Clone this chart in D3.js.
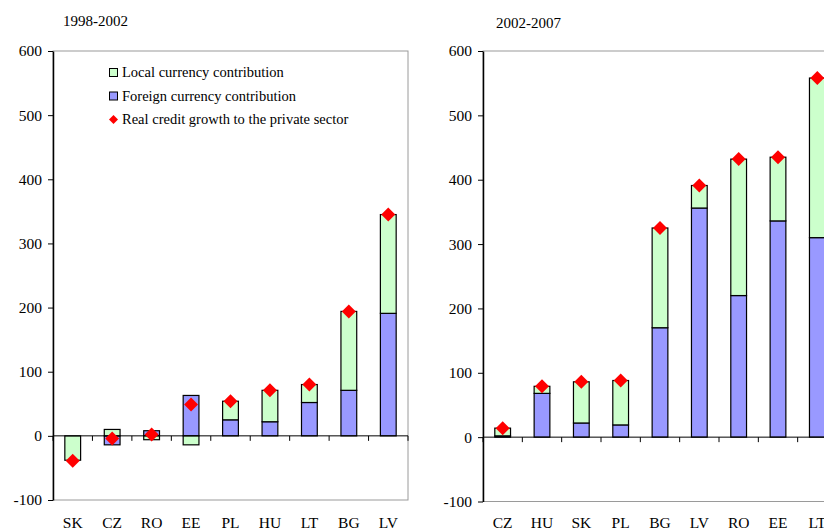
<!DOCTYPE html>
<html>
<head>
<meta charset="utf-8">
<script src="https://cdn.jsdelivr.net/npm/d3@7"></script>
<style>
  html, body { margin: 0; padding: 0; background: #fff; }
  svg, svg text { font-family: "Liberation Serif", "Times New Roman", serif; }
  svg { display: block; }
</style>
</head>
<body>
<svg id="chart" width="824" height="532"></svg>
<script>
// ---- data ----
const leftTitle = "1998-2002";
const leftCategories = ["SK", "CZ", "RO", "EE", "PL", "HU", "LT", "BG", "LV"];
const leftForeign = [0, -14, 8, 63, 25, 22, 52, 71, 191];
const leftLocal = [-38, 10, -6, -14, 29, 49, 28, 123, 154];
const leftReal = [-39, -4, 2, 49, 54, 71, 80, 194, 345];

const rightTitle = "2002-2007";
const rightCategories = ["CZ", "HU", "SK", "PL", "BG", "LV", "RO", "EE", "LT"];
const rightForeign = [2, 68, 22, 19, 170, 356, 220, 336, 310];
const rightLocal = [12, 11, 64, 69, 155, 35, 212, 99, 248];
const rightReal = [14, 79, 86, 88, 325, 391, 432, 435, 558];

const yTicks = [-100, 0, 100, 200, 300, 400, 500, 600];
const legendLabels = ["Local currency contribution", "Foreign currency contribution", "Real credit growth to the private sector"];

const COLORS = { local: "#CCFFCC", foreign: "#9999FF", real: "#FF0000" };

const svg = d3.select("#chart");
svg.append("rect").attr("width", 824).attr("height", 532).attr("fill", "#fff");

function drawPanel(p) {
  const g = svg.append("g");
  const x = d3.scaleBand().domain(p.categories).range([p.x0, p.x1]).paddingInner(0.6).paddingOuter(0.3);
  const y = d3.scaleLinear().domain([-100, 600]).range([p.yBottom, p.yTop]);

  // plot area border
  g.append("rect")
    .attr("x", p.x0).attr("y", p.yTop)
    .attr("width", p.x1 - p.x0).attr("height", p.yBottom - p.yTop)
    .attr("fill", "none").attr("stroke", "#9a9a9a").attr("stroke-width", 1);

  // stacked data
  const rows = p.categories.map((c, i) => ({ cat: c, foreign: p.foreign[i], local: p.local[i], real: p.real[i] }));
  const stack = d3.stack().keys(["foreign", "local"]).offset(d3.stackOffsetDiverging);
  const series = stack(rows);

  g.selectAll("g.series").data(series).enter().append("g")
    .attr("fill", d => COLORS[d.key])
    .selectAll("rect").data(d => d).enter().append("rect")
    .attr("x", d => x(d.data.cat))
    .attr("width", x.bandwidth())
    .attr("y", d => y(Math.max(d[0], d[1])))
    .attr("height", d => Math.abs(y(d[0]) - y(d[1])))
    .attr("stroke", "#000").attr("stroke-width", 1.2);

  // x axis at zero
  const step = x.step();
  const zeroY = y(0);
  g.append("line").attr("x1", p.x0).attr("x2", p.x1).attr("y1", zeroY).attr("y2", zeroY)
    .attr("stroke", "#000").attr("stroke-width", 1);
  d3.range(p.categories.length + 1).forEach(i => {
    const tx = p.x0 + i * step;
    g.append("line").attr("x1", tx).attr("x2", tx).attr("y1", zeroY).attr("y2", zeroY + 5)
      .attr("stroke", "#000").attr("stroke-width", 1);
  });

  // category labels at bottom
  g.selectAll("text.cat").data(p.categories).enter().append("text")
    .attr("x", d => x(d) + x.bandwidth() / 2)
    .attr("y", 528)
    .attr("text-anchor", "middle")
    .attr("font-size", 15.5)
    .attr("fill", "#000")
    .text(d => d);

  // y axis
  const yAxis = d3.axisLeft(y).tickValues(yTicks).tickSize(5).tickPadding(6).tickSizeOuter(0).tickFormat(d => String(d));
  const ya = g.append("g").attr("transform", `translate(${p.x0},0)`).call(yAxis)
    .attr("font-family", null).attr("font-size", null);
  ya.select(".domain").attr("stroke", "#000").attr("stroke-width", 1.5);
  ya.selectAll(".tick line").attr("stroke", "#000");
  ya.selectAll(".tick text").style("font-family", "'Liberation Serif', serif").style("font-size", "15.5px").attr("fill", "#000");

  // diamonds
  const diamond = "M0,-7L7,0L0,7L-7,0Z";
  g.selectAll("path.real").data(rows).enter().append("path")
    .attr("d", diamond)
    .attr("transform", d => `translate(${x(d.cat) + x.bandwidth() / 2},${y(d.real)})`)
    .attr("fill", COLORS.real);

  // title
  g.append("text").attr("x", p.titleX).attr("y", p.titleY).attr("font-size", 15).attr("fill", "#000").text(p.title);
}

drawPanel({ title: leftTitle, titleX: 63, titleY: 26, categories: leftCategories, foreign: leftForeign, local: leftLocal, real: leftReal,
  x0: 53, x1: 408, yTop: 51, yBottom: 500 });
drawPanel({ title: rightTitle, titleX: 496, titleY: 28, categories: rightCategories, foreign: rightForeign, local: rightLocal, real: rightReal,
  x0: 483, x1: 837, yTop: 51, yBottom: 501.5 });

// legend (left panel)
const leg = svg.append("g");
const legY = [77, 100.5, 124];
const legKeys = ["local", "foreign", "real"];
legKeys.forEach((k, i) => {
  if (k === "real") {
    leg.append("path").attr("d", "M0,-4.5L4.5,0L0,4.5L-4.5,0Z")
      .attr("transform", `translate(113.5,${legY[i] - 4.5})`).attr("fill", COLORS.real);
  } else {
    leg.append("rect").attr("x", 109.5).attr("y", legY[i] - 8.5).attr("width", 8).attr("height", 8)
      .attr("fill", COLORS[k]).attr("stroke", "#000").attr("stroke-width", 1);
  }
  leg.append("text").attr("x", 122).attr("y", legY[i]).attr("font-size", 14.5).attr("fill", "#000").text(legendLabels[i]);
});
</script>
</body>
</html>
